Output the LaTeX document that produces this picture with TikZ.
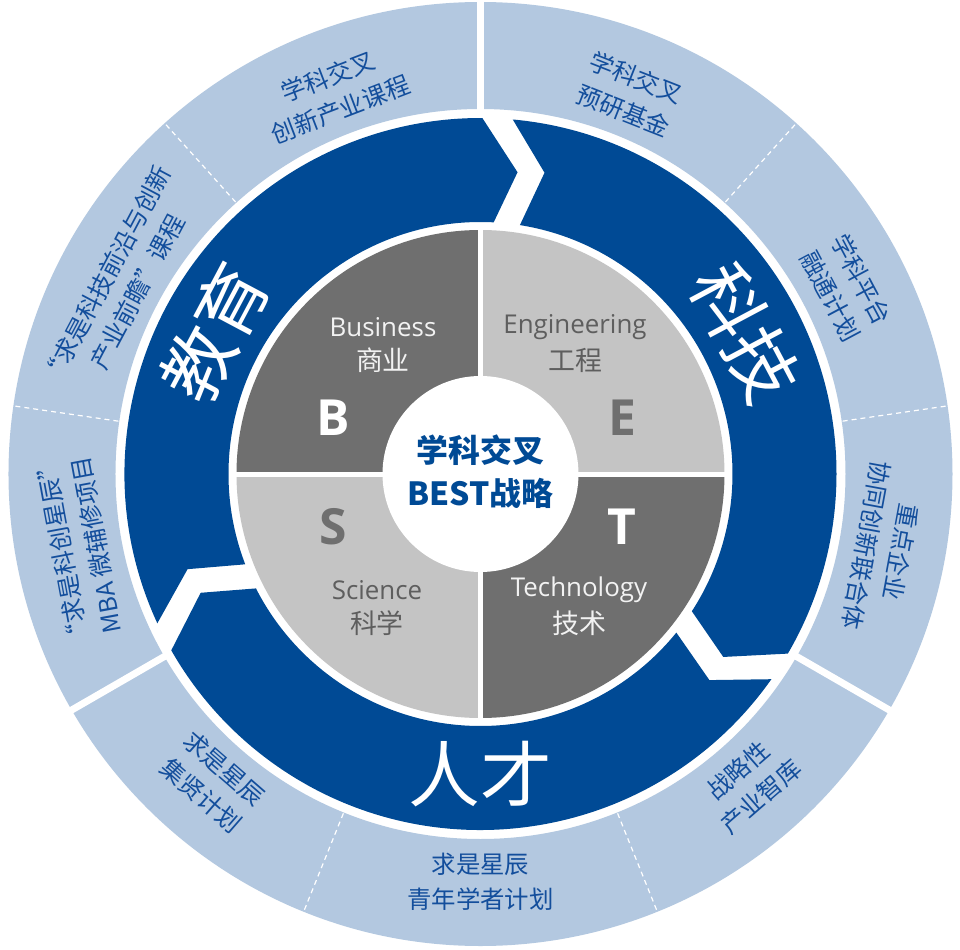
\documentclass[tikz,border=0pt]{standalone}
\usepackage{fontspec}
\setmainfont{Noto Sans CJK SC}
\newfontfamily\latinfont{Open Sans}
\definecolor{dblue}{HTML}{004A95}
\definecolor{lblue}{HTML}{B3C8E0}
\definecolor{dgray}{HTML}{6F6F6F}
\definecolor{lgray}{HTML}{C4C4C4}
\definecolor{tblue}{HTML}{134E9C}
\definecolor{qtext}{HTML}{5E5E5E}
\definecolor{qwhite}{HTML}{F2F2F2}
\begin{document}
\begin{tikzpicture}[x=1bp,y=1bp,
  outerlbl/.style={text=tblue, font=\fontsize{24.5}{35}\selectfont, align=center, inner sep=0pt},
  ringlbl/.style={text=white, font=\fontsize{72}{72}\selectfont, inner sep=0pt},
  quadlbl/.style={font=\latinfont\fontsize{26}{30}\selectfont, inner sep=0pt},
  quadcn/.style={font=\fontsize{27}{30}\selectfont, inner sep=0pt},
  bigletter/.style={font=\latinfont\bfseries\fontsize{50}{50}\selectfont, inner sep=0pt},
  centerlbl/.style={text=dblue, font=\bfseries\fontsize{32}{43}\selectfont, align=center, inner sep=0pt},
  groupgap/.style={white, line width=7bp},
  subgap/.style={white, line width=1.2bp, dash pattern=on 5bp off 4bp},
  quadgap/.style={white, line width=5bp}
]
\fill[white] (-480.5,-476) rectangle (479.5,474);
\useasboundingbox (-480.5,-476) rectangle (479.5,474);

% outer light ring
\fill[lblue, even odd rule] (0,0) circle[radius=472] (0,0) circle[radius=365];
\foreach \a in {90,-30,210} \draw[groupgap] (\a:360) -- (\a:478);
\foreach \a in {48,8.3,132,171.7,248,292} \draw[subgap] (\a:366) -- (\a:471);

% dark blue arrow ring
\foreach \S/\E in {210/90, 90/-30, 330/210}
  \fill[dblue] ({\S-5.2}:356) arc[start angle={\S-5.2}, end angle={\E-0.3}, radius=356]
    -- ({\E-7}:304) -- ({\E-3}:252)
    arc[start angle={\E-3}, end angle={\S-9}, radius=252]
    -- ({\S-12}:308) -- cycle;

% quadrants
\fill[dgray] (0,0) -- (90:244) arc[start angle=90, end angle=180, radius=244] -- cycle;
\fill[lgray] (0,0) -- (0:244) arc[start angle=0, end angle=90, radius=244] -- cycle;
\fill[lgray] (0,0) -- (180:244) arc[start angle=180, end angle=270, radius=244] -- cycle;
\fill[dgray] (0,0) -- (270:244) arc[start angle=270, end angle=360, radius=244] -- cycle;
\draw[quadgap] (-250,0) -- (250,0);
\draw[quadgap] (0,-250) -- (0,250);
\fill[white] (0,0) circle[radius=98];

% center
\node[centerlbl] (center) at (0,2) {学科交叉\\BEST战略};

% quadrant texts
\node[quadlbl, text=qwhite] (bus) at (-97.5,147) {Business};
\node[quadcn, text=qwhite] (buscn) at (-97.5,114) {商业};
\node[bigletter, text=white] (B) at (-147.5,56) {B};
\node[quadlbl, text=qtext] (eng) at (94.5,147) {Engineering};
\node[quadcn, text=qtext] (engcn) at (94.5,114) {工程};
\node[bigletter, text=dgray] (E) at (141.5,56) {E};
\node[bigletter, text=dgray] (S) at (-147.5,-53) {S};
\node[quadlbl, text=qtext] (sci) at (-103.5,-116) {Science};
\node[quadcn, text=qtext] (scicn) at (-103.5,-149) {科学};
\node[bigletter, text=white] (T) at (141.5,-53) {T};
\node[quadlbl, text=qwhite] (tec) at (98.5,-116) {Technology};
\node[quadcn, text=qwhite] (teccn) at (98.5,-149) {技术};

% ring labels
\node[ringlbl, rotate=62] (edu) at (152:301) {教育};
\node[ringlbl, rotate=-62] (tech) at (28:300) {科技};
\node[ringlbl] (talent) at (270:300) {人才};

% outer labels
\node[outerlbl, rotate=21] (o1) at (111:408) {学科交叉\\创新产业课程};
\node[outerlbl, rotate=62] (o2) at (152:406) {“求是科技前沿与创新\\产业前瞻”课程};
\node[outerlbl, rotate=100.5] (o3) at (190.5:408) {“求是科创星辰”\\MBA 微辅修项目};
\node[outerlbl, rotate=-41] (o4) at (229:408) {求是星辰\\集贤计划};
\node[outerlbl] (o5) at (270:408) {求是星辰\\青年学者计划};
\node[outerlbl, rotate=41] (o6) at (311:410) {战略性\\产业智库};
\node[outerlbl, rotate=-100.5] (o7) at (-10.5:410) {重点企业\\协同创新联合体};
\node[outerlbl, rotate=-62] (o8) at (27:410) {学科平台\\融通计划};
\node[outerlbl, rotate=-21.5] (o9) at (68.5:408) {学科交叉\\预研基金};
\end{tikzpicture}
\end{document}
